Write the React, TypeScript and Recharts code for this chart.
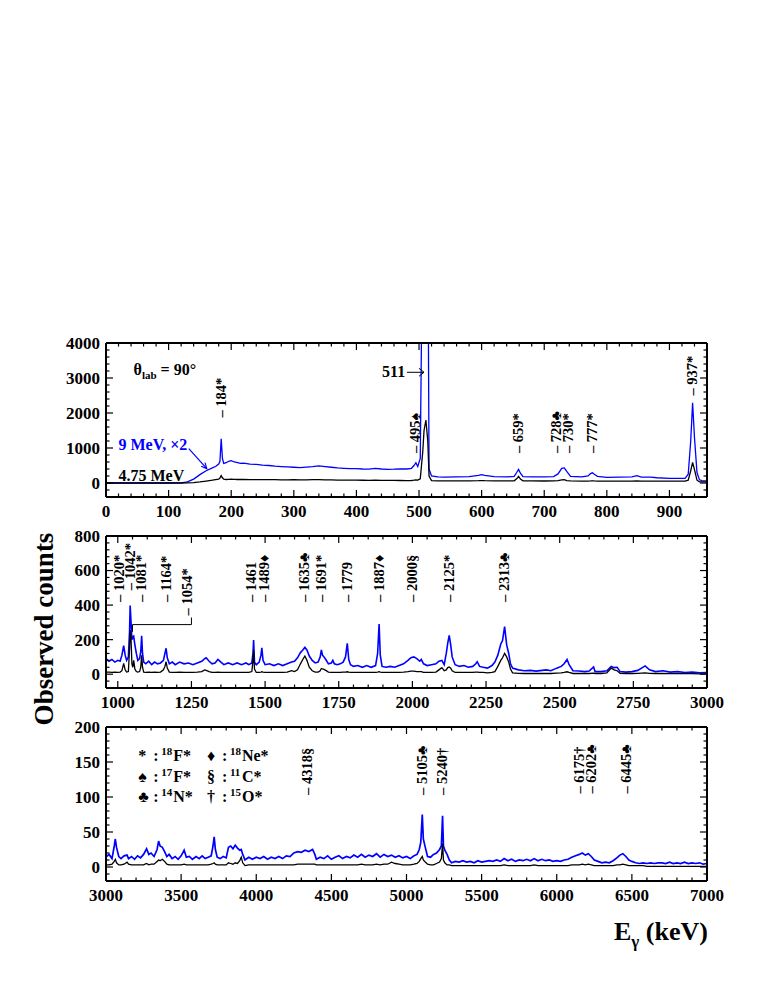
import React from 'react';
import { LineChart, Line, XAxis, YAxis, ReferenceDot, ReferenceLine } from 'recharts';

const SERIF = '"Liberation Serif", "Times New Roman", serif';
const BLUE = '#0000ff';

// ---------- panel 1 : 0 - 960 keV ----------
const e1 = [
  0, 20, 40, 60, 80, 100, 120, 130, 140, 150, 160, 170,
  175, 180, 182, 184, 186, 188, 192, 196, 200, 205, 210, 215,
  220, 230, 240, 250, 260, 270, 280, 290, 300, 310, 320, 330,
  340, 350, 360, 370, 380, 390, 400, 410, 420, 430, 440, 450,
  460, 470, 480, 488, 492, 495, 498, 502, 506, 508, 511, 514,
  516, 520, 530, 540, 560, 580, 595, 600, 605, 620, 640, 652,
  656, 659, 662, 666, 680, 700, 715, 722, 728, 732, 736, 742,
  760, 770, 774, 777, 780, 785, 800, 820, 840, 848, 855, 870,
  880, 900, 915, 925, 930, 934, 937, 940, 944, 948, 952, 960,
];
const blue1 = [
  0, 0, 0, 0, 0, 0, 5, 30, 110, 240, 350, 430,
  470, 540, 620, 1260, 700, 560, 580, 620, 640, 600, 580, 560,
  570, 540, 530, 510, 500, 480, 470, 460, 450, 440, 455, 470,
  490, 470, 450, 430, 420, 410, 410, 400, 395, 420, 400, 390,
  395, 405, 400, 420, 500, 580, 470, 700, 8000, 12000, 12000, 8000,
  400, 200, 175, 170, 175, 180, 220, 240, 220, 185, 175, 190,
  300, 390, 280, 180, 175, 175, 185, 260, 420, 430, 330, 190,
  175, 200, 270, 290, 250, 190, 160, 165, 175, 210, 170, 165,
  150, 135, 135, 130, 250, 1200, 2290, 1300, 300, 90, 65, 60,
];
const black1 = [
  0, 0, 0, 0, 0, 0, 0, 2, 10, 30, 55, 80,
  95, 110, 140, 210, 150, 110, 100, 105, 110, 105, 100, 100,
  100, 98, 96, 95, 95, 94, 92, 92, 95, 90, 92, 94,
  96, 92, 88, 85, 82, 80, 80, 78, 76, 78, 75, 74,
  74, 72, 70, 72, 80, 90, 85, 120, 900, 1500, 1800, 1200,
  200, 70, 62, 60, 60, 60, 65, 70, 66, 60, 58, 62,
  120, 190, 110, 62, 58, 57, 58, 70, 90, 95, 70, 58,
  56, 56, 58, 62, 58, 56, 55, 55, 55, 58, 56, 55,
  55, 55, 55, 55, 80, 350, 590, 380, 80, 35, 30, 30,
];

// ---------- panel 2 : 960 - 3000 keV ----------
const e2 = [
  960, 970, 980, 990, 1000, 1008, 1014, 1020, 1025, 1030, 1036, 1040,
  1042, 1045, 1048, 1051, 1054, 1058, 1063, 1068, 1074, 1078, 1081, 1084,
  1088, 1095, 1105, 1115, 1125, 1135, 1145, 1155, 1160, 1164, 1168, 1175,
  1185, 1195, 1210, 1225, 1240, 1255, 1270, 1285, 1295, 1300, 1310, 1320,
  1330, 1340, 1350, 1360, 1375, 1390, 1405, 1420, 1435, 1445, 1455, 1459,
  1461, 1464, 1470, 1480, 1486, 1489, 1493, 1500, 1515, 1530, 1545, 1560,
  1575, 1590, 1600, 1610, 1620, 1628, 1635, 1642, 1650, 1660, 1670, 1680,
  1687, 1691, 1695, 1700, 1706, 1715, 1725, 1730, 1735, 1745, 1755, 1765,
  1773, 1779, 1784, 1790, 1800, 1815, 1830, 1845, 1860, 1875, 1882, 1887,
  1891, 1897, 1910, 1925, 1940, 1955, 1970, 1985, 1995, 2005, 2015, 2025,
  2030, 2038, 2050, 2065, 2080, 2090, 2100, 2108, 2115, 2120, 2125, 2130,
  2135, 2145, 2160, 2175, 2190, 2205, 2215, 2220, 2228, 2240, 2255, 2270,
  2280, 2290, 2300, 2306, 2313, 2320, 2327, 2333, 2340, 2360, 2380, 2400,
  2420, 2440, 2455, 2470, 2490, 2505, 2515, 2525, 2532, 2545, 2565, 2585,
  2600, 2615, 2620, 2640, 2660, 2675, 2685, 2695, 2705, 2725, 2745, 2765,
  2790, 2805, 2825, 2850, 2875, 2900, 2925, 2950, 2975, 3000,
];
const blue2 = [
  90, 75, 85, 70, 80, 75, 110, 165, 110, 80, 100, 250,
  397, 300, 200, 215, 220, 170, 120, 80, 90, 130, 222, 120,
  70, 60, 75, 55, 70, 60, 65, 80, 120, 150, 95, 60,
  70, 55, 70, 60, 65, 55, 65, 75, 90, 95, 75, 60,
  65, 85, 70, 55, 65, 55, 65, 55, 65, 55, 65, 120,
  198, 70, 55, 70, 110, 152, 80, 55, 60, 50, 60, 50,
  60, 70, 75, 95, 125, 140, 155, 140, 105, 80, 65, 70,
  100, 140, 110, 100, 85, 60, 65, 80, 60, 55, 60, 70,
  100, 178, 85, 55, 45, 50, 40, 50, 40, 50, 120, 290,
  110, 45, 40, 45, 40, 50, 60, 80, 95, 100, 90, 75,
  85, 60, 50, 55, 60, 75, 80, 55, 120, 180, 225, 170,
  100, 55, 45, 50, 40, 45, 60, 72, 45, 40, 35, 50,
  70, 110, 175, 195, 275, 170, 120, 60, 35, 25, 20, 22,
  18, 22, 25, 20, 35, 45, 60, 85, 55, 20, 18, 15,
  18, 42, 15, 15, 20, 45, 38, 40, 15, 12, 15, 22,
  48, 25, 15, 20, 12, 15, 10, 12, 8, 10,
];
const black2 = [
  12, 12, 10, 12, 10, 12, 20, 62, 25, 12, 15, 150,
  255, 200, 60, 40, 80, 30, 15, 12, 15, 40, 110, 40,
  12, 10, 12, 10, 12, 10, 12, 25, 45, 72, 35, 12,
  10, 10, 12, 10, 10, 10, 12, 15, 25, 22, 15, 10,
  10, 12, 10, 10, 10, 10, 10, 10, 10, 10, 15, 80,
  140, 30, 10, 10, 12, 14, 12, 10, 10, 10, 10, 10,
  12, 20, 15, 25, 60, 85, 105, 80, 40, 20, 12, 12,
  20, 33, 30, 28, 22, 12, 10, 10, 10, 10, 10, 12,
  12, 14, 12, 10, 10, 10, 10, 10, 10, 10, 12, 15,
  12, 10, 10, 10, 10, 10, 12, 15, 18, 18, 15, 15,
  15, 10, 10, 10, 12, 25, 38, 20, 25, 38, 42, 35,
  20, 10, 10, 10, 10, 10, 12, 12, 10, 10, 8, 10,
  15, 45, 80, 95, 120, 100, 70, 30, 8, 5, 4, 4,
  4, 4, 5, 4, 6, 8, 10, 14, 10, 4, 4, 4,
  4, 6, 4, 4, 8, 35, 25, 20, 5, 4, 4, 5,
  8, 5, 4, 4, 3, 3, 3, 3, 2, 2,
];

// ---------- panel 3 : 3000 - 7000 keV ----------
const e3 = [
  3000, 3020, 3040, 3055, 3062, 3070, 3085, 3100, 3120, 3140, 3150, 3170,
  3190, 3210, 3230, 3250, 3270, 3285, 3300, 3320, 3340, 3350, 3360, 3375,
  3390, 3405, 3420, 3440, 3460, 3480, 3500, 3520, 3535, 3555, 3575, 3600,
  3620, 3640, 3660, 3680, 3700, 3712, 3720, 3728, 3740, 3760, 3780, 3800,
  3815, 3830, 3845, 3860, 3875, 3890, 3900, 3910, 3925, 3950, 3975, 4000,
  4025, 4050, 4075, 4100, 4125, 4150, 4175, 4200, 4225, 4250, 4275, 4300,
  4325, 4350, 4375, 4390, 4400, 4425, 4450, 4475, 4500, 4525, 4550, 4575,
  4600, 4625, 4650, 4675, 4700, 4725, 4750, 4775, 4800, 4825, 4850, 4875,
  4900, 4925, 4950, 4975, 5000, 5025, 5050, 5070, 5085, 5095, 5105, 5112,
  5125, 5140, 5160, 5180, 5200, 5220, 5232, 5240, 5246, 5255, 5270, 5285,
  5300, 5325, 5350, 5375, 5400, 5425, 5450, 5475, 5500, 5525, 5550, 5575,
  5600, 5625, 5650, 5675, 5700, 5725, 5750, 5775, 5800, 5825, 5850, 5875,
  5900, 5925, 5950, 5975, 6000, 6025, 6050, 6075, 6100, 6125, 6150, 6170,
  6190, 6210, 6230, 6250, 6275, 6300, 6325, 6350, 6375, 6400, 6420, 6440,
  6460, 6480, 6500, 6525, 6550, 6575, 6600, 6625, 6650, 6675, 6700, 6725,
  6750, 6775, 6800, 6825, 6850, 6875, 6900, 6925, 6950, 6975, 7000,
];
const blue3 = [
  14, 18, 12, 30, 40, 28, 15, 12, 16, 17, 12, 15,
  11, 16, 13, 18, 26, 18, 20, 15, 25, 37, 30, 28,
  22, 15, 18, 12, 15, 11, 16, 24, 14, 15, 11, 15,
  12, 16, 12, 14, 16, 30, 43, 25, 14, 12, 15, 13,
  28, 30, 26, 31, 27, 24, 25, 18, 10, 14, 11, 14,
  12, 15, 11, 14, 12, 15, 12, 16, 15, 20, 22, 21,
  24, 22, 25, 18, 11, 14, 12, 16, 11, 14, 16, 12,
  15, 13, 17, 14, 18, 14, 17, 15, 19, 14, 18, 15,
  17, 14, 16, 13, 15, 12, 16, 18, 25, 35, 75, 40,
  28, 15, 14, 18, 20, 25, 30, 73, 30, 24, 18, 10,
  6, 8, 7, 9, 7, 8, 6, 9, 7, 8, 9, 8,
  10, 8, 12, 9, 11, 8, 10, 9, 11, 9, 12, 9,
  11, 9, 10, 8, 9, 8, 10, 11, 14, 16, 18, 20,
  17, 19, 15, 10, 8, 6, 7, 6, 9, 13, 17, 19,
  15, 10, 8, 6, 5, 6, 5, 6, 5, 6, 6, 5,
  7, 5, 6, 5, 7, 5, 6, 5, 6, 4, 5,
];
const black3 = [
  3, 3, 4, 8, 11, 6, 3, 3, 4, 7, 4, 3,
  3, 3, 3, 3, 5, 3, 4, 4, 8, 10, 9, 11,
  8, 4, 3, 3, 3, 3, 3, 4, 3, 3, 3, 3,
  3, 3, 3, 3, 4, 5, 6, 4, 3, 3, 3, 3,
  6, 5, 4, 6, 5, 9, 14, 6, 2, 3, 3, 3,
  3, 3, 3, 3, 3, 3, 3, 3, 3, 3, 4, 4,
  4, 4, 4, 4, 3, 3, 3, 3, 3, 3, 3, 3,
  3, 3, 3, 3, 4, 3, 3, 3, 4, 3, 4, 4,
  7, 5, 4, 3, 3, 3, 4, 5, 8, 12, 15, 10,
  7, 4, 3, 3, 5, 7, 12, 33, 10, 6, 3, 3,
  2, 2, 2, 2, 2, 2, 2, 2, 2, 2, 2, 2,
  2, 2, 3, 2, 2, 2, 2, 2, 2, 2, 3, 2,
  2, 2, 2, 2, 2, 2, 2, 2, 3, 3, 3, 4,
  3, 4, 3, 2, 2, 2, 2, 2, 2, 3, 3, 4,
  3, 2, 2, 2, 2, 2, 1, 1, 1, 1, 1, 1,
  1, 1, 1, 1, 1, 1, 1, 1, 1, 1, 1,
];

// tick labels
const xLabels1 = [0, 100, 200, 300, 400, 500, 600, 700, 800, 900];
const yLabels1 = [0, 1000, 2000, 3000, 4000];
const xLabels2 = [1000, 1250, 1500, 1750, 2000, 2250, 2500, 2750, 3000];
const yLabels2 = [0, 200, 400, 600, 800];
const xLabels3 = [3000, 3500, 4000, 4500, 5000, 5500, 6000, 6500, 7000];
const yLabels3 = [0, 50, 100, 150, 200];

// peak labels
const peaks1 = [184, 495, 659, 728, 730, 777, 937];
const names1 = ['184*', '495♠', '659*', '728♣', '730*', '777*', '937*'];
const peaks2 = [1020, 1042, 1081, 1164, 1461, 1489, 1635, 1691, 1779, 1887, 2000, 2125, 2313];
const names2 = ['1020*', '1042*', '1081*', '1164*', '1461', '1489♦', '1635♣', '1691*', '1779', '1887♦', '2000§', '2125*', '2313♣'];
const peaks3 = [4318, 5105, 5240, 6175, 6202, 6445];
const names3 = ['4318§', '5105♣', '5240†', '6175†', '6202♣', '6445♣'];

// legend of the symbols
const legendSymbols = ['*', '♠', '♣', '♦', '§', '†'];
const legendMass = ['18', '17', '14', '18', '11', '15'];
const legendNuclide = ['F*', 'F*', 'N*', 'Ne*', 'C*', 'O*'];

// layout of the peak labels (height of the dash, in counts, and sideways nudge in px)
const LABEL_AT1 = [1870, 857, 857, 857, 857, 857, 2500];
const NUDGE1 = [0, 0, 0, -5, 5, 0, 0];
const LABEL_AT2 = [418, 486, 418, 418, 418, 418, 418, 418, 418, 418, 418, 418, 418];
const NUDGE2 = [-4, 0, 0, 0, -2, 3, 0, 0, 0, 0, 0, 0, 0];
const LABEL_AT3 = [103, 103, 103, 105, 105, 105];
const NUDGE3 = [3, 0, 0, -4, 4, 3];

const range = (from: number, to: number, step: number) => {
  const out: number[] = [];
  for (let v = from; v <= to + 1e-6; v += step) out.push(Math.round(v * 1000) / 1000);
  return out;
};

const toRows = (e: number[], blue: number[], black: number[]) =>
  e.map((v, i) => ({ e: v, blue: blue[i], black: black[i] }));

const MAJOR = 7;
const MINOR = 3.5;
const labelStyle = { fontFamily: SERIF, fontWeight: 700, fontSize: 17 };

function makeTick(side: string, majors: number[]) {
  return (p: any) => {
    const v = p.payload.value;
    const major = majors.some((m) => Math.abs(m - v) < 1e-6);
    const len = major ? MAJOR : MINOR;
    const { x, y } = p;
    let tick;
    let label = null;
    if (side === 'bottom') {
      tick = <line x1={x} x2={x} y1={y} y2={y - len} />;
      if (major)
        label = (
          <text x={x} y={y + 20} textAnchor="middle" stroke="none" fill="#000" style={labelStyle}>
            {v}
          </text>
        );
    } else if (side === 'top') {
      tick = <line x1={x} x2={x} y1={y} y2={y + len} />;
    } else if (side === 'left') {
      tick = <line x1={x} x2={x + len} y1={y} y2={y} />;
      if (major)
        label = (
          <text x={x - 6} y={y} dy="0.35em" textAnchor="end" stroke="none" fill="#000" style={labelStyle}>
            {v}
          </text>
        );
    } else {
      tick = <line x1={x} x2={x - len} y1={y} y2={y} />;
    }
    return (
      <g stroke="#000" strokeWidth={1.2}>
        {tick}
        {label}
      </g>
    );
  };
}

const peakLabel = (text: string, nudge: number) => (p: any) => (
  <text
    transform={`translate(${p.cx + 4.5 + nudge},${p.cy}) rotate(-90)`}
    style={{ fontFamily: SERIF, fontWeight: 700, fontSize: 14.5 }}
    fill="#000"
  >
    {'– ' + text}
  </text>
);

function peakDots(peaks: number[], names: string[], at: number[], nudge: number[]) {
  return peaks.map((pk, i) => (
    <ReferenceDot
      key={names[i]}
      xAxisId="b"
      yAxisId="l"
      x={pk}
      y={at[i]}
      r={0}
      shape={peakLabel(names[i], nudge[i])}
    />
  ));
}

const note = (key: string, x: number, y: number, draw: (cx: number, cy: number) => React.ReactNode) => (
  <ReferenceDot key={key} xAxisId="b" yAxisId="l" x={x} y={y} r={0} shape={(p: any) => <g>{draw(p.cx, p.cy)}</g>} />
);

interface PanelProps {
  top: number;
  height: number;
  rows: { e: number; blue: number; black: number }[];
  xDomain: [number, number];
  yDomain: [number, number];
  xTicks: number[];
  yTicks: number[];
  xMajor: number[];
  yMajor: number[];
  blueWidth: number;
  children?: React.ReactNode;
}

function Panel({ top, height, rows, xDomain, yDomain, xTicks, yTicks, xMajor, yMajor, blueWidth, children }: PanelProps) {
  const frame = { stroke: '#000', strokeWidth: 2 };
  return (
    <div style={{ position: 'absolute', left: 0, top: top - 20 }}>
      <LineChart width={763} height={height + 60} data={rows} margin={{ top: 18, right: 46, bottom: 10, left: 46 }}>
        <XAxis
          xAxisId="b"
          type="number"
          dataKey="e"
          domain={xDomain}
          allowDataOverflow
          ticks={xTicks}
          interval={0}
          tickSize={0}
          tickMargin={0}
          tickLine={false}
          axisLine={frame}
          height={30}
          tick={makeTick('bottom', xMajor)}
        />
        <XAxis
          xAxisId="t"
          orientation="top"
          type="number"
          dataKey="e"
          domain={xDomain}
          allowDataOverflow
          ticks={xTicks}
          interval={0}
          tickSize={0}
          tickMargin={0}
          tickLine={false}
          axisLine={frame}
          height={2}
          tick={makeTick('top', xMajor)}
        />
        <YAxis
          yAxisId="l"
          type="number"
          domain={yDomain}
          allowDataOverflow
          ticks={yTicks}
          interval={0}
          tickSize={0}
          tickMargin={0}
          tickLine={false}
          axisLine={frame}
          width={60}
          tick={makeTick('left', yMajor)}
        />
        <YAxis
          yAxisId="r"
          orientation="right"
          type="number"
          domain={yDomain}
          allowDataOverflow
          ticks={yTicks}
          interval={0}
          tickSize={0}
          tickMargin={0}
          tickLine={false}
          axisLine={frame}
          width={10}
          tick={makeTick('right', yMajor)}
        />
        <Line
          xAxisId="b"
          yAxisId="l"
          type="linear"
          dataKey="blue"
          stroke={BLUE}
          strokeWidth={blueWidth}
          dot={false}
          isAnimationActive={false}
        />
        <Line
          xAxisId="t"
          yAxisId="r"
          type="linear"
          dataKey="black"
          stroke="#000"
          strokeWidth={1.3}
          dot={false}
          isAnimationActive={false}
        />
        {children}
      </LineChart>
    </div>
  );
}

const txt = { fontFamily: SERIF, fontWeight: 700 };

export default function App() {
  const legendCols = [3215, 3672];
  const legendRows = [152, 121, 93];
  return (
    <div style={{ position: 'absolute', left: 0, top: 0, width: 763, height: 987, background: '#fff' }}>
      <Panel
        top={343}
        height={154}
        rows={toRows(e1, blue1, black1)}
        xDomain={[0, 960]}
        yDomain={[-400, 4000]}
        xTicks={range(0, 940, 20)}
        yTicks={range(-200, 4000, 200)}
        xMajor={xLabels1}
        yMajor={yLabels1}
        blueWidth={1.3}
      >
        {peakDots(peaks1, names1, LABEL_AT1, NUDGE1)}
        {note('theta', 44, 3077, (cx, cy) => (
          <text x={cx} y={cy} style={{ ...txt, fontSize: 16 }} fill="#000">
            θ<tspan dy={4} style={{ fontSize: 11 }}>lab</tspan>
            <tspan dy={-4}> = 90°</tspan>
          </text>
        ))}
        {note('511', 441, 3029, (cx, cy) => (
          <text x={cx} y={cy} style={{ ...txt, fontSize: 16 }} fill="#000">511</text>
        ))}
        {note('arrow511', 508, 3163, (cx, cy) => (
          <g stroke="#000" strokeWidth={1} fill="none">
            <line x1={cx - 17} y1={cy} x2={cx} y2={cy} />
            <polyline points={`${cx - 5},${cy - 4} ${cx},${cy} ${cx - 5},${cy + 4}`} />
          </g>
        ))}
        {note('9mev', 20, 954, (cx, cy) => (
          <text x={cx} y={cy} style={{ ...txt, fontSize: 16 }} fill={BLUE}>9 MeV, ×2</text>
        ))}
        {note('arrow9', 161, 411, (cx, cy) => (
          <g stroke={BLUE} strokeWidth={1.2} fill="none">
            <line x1={cx - 18} y1={cy - 20} x2={cx} y2={cy} />
            <polyline points={`${cx - 1.8},${cy - 6} ${cx},${cy} ${cx - 5.6},${cy - 2.4}`} />
          </g>
        ))}
        {note('475', 20, 57, (cx, cy) => (
          <text x={cx} y={cy} style={{ ...txt, fontSize: 16 }} fill="#000">4.75 MeV</text>
        ))}
      </Panel>

      <Panel
        top={536}
        height={152}
        rows={toRows(e2, blue2, black2)}
        xDomain={[960, 3000]}
        yDomain={[-80, 800]}
        xTicks={range(1000, 3000, 50)}
        yTicks={range(-40, 800, 40)}
        xMajor={xLabels2}
        yMajor={yLabels2}
        blueWidth={1.6}
      >
        {peakDots(peaks2, names2, LABEL_AT2, NUDGE2)}
        <ReferenceDot xAxisId="b" yAxisId="l" x={1250} y={340} r={0} shape={peakLabel('1054*', -4)} />
        <ReferenceLine xAxisId="b" yAxisId="l" segment={[{ x: 1050, y: 245 }, { x: 1050, y: 287 }]} stroke="#000" strokeWidth={1} />
        <ReferenceLine xAxisId="b" yAxisId="l" segment={[{ x: 1050, y: 287 }, { x: 1250, y: 287 }]} stroke="#000" strokeWidth={1} />
        <ReferenceLine xAxisId="b" yAxisId="l" segment={[{ x: 1250, y: 287 }, { x: 1250, y: 328 }]} stroke="#000" strokeWidth={1} />
      </Panel>

      <Panel
        top={727}
        height={154}
        rows={toRows(e3, blue3, black3)}
        xDomain={[3000, 7000]}
        yDomain={[-20, 200]}
        xTicks={range(3000, 7000, 100)}
        yTicks={range(-10, 200, 10)}
        xMajor={xLabels3}
        yMajor={yLabels3}
        blueWidth={1.7}
      >
        {peakDots(peaks3, names3, LABEL_AT3, NUDGE3)}
        {legendSymbols.map((s, i) =>
          note('leg' + i, legendCols[Math.floor(i / 3)], legendRows[i % 3], (cx, cy) => (
            <g style={{ ...txt, fontSize: 16 }} fill="#000">
              <text x={cx} y={cy}>{s}</text>
              <text x={cx + 15} y={cy}>:</text>
              <text x={cx + 23} y={cy - 6} style={{ fontSize: 11 }}>{legendMass[i]}</text>
              <text x={cx + 35} y={cy}>{legendNuclide[i]}</text>
            </g>
          ))
        )}
      </Panel>

      <svg width={763} height={987} style={{ position: 'absolute', left: 0, top: 0, pointerEvents: 'none' }}>
        <text transform="translate(53,629) rotate(-90)" textAnchor="middle" style={{ ...txt, fontSize: 27 }} fill="#000">
          Observed counts
        </text>
        <text x={614} y={940} style={{ ...txt, fontSize: 26 }} fill="#000">
          E<tspan dy={7} style={{ fontSize: 17 }}>γ</tspan>
          <tspan dy={-7}> (keV)</tspan>
        </text>
      </svg>
    </div>
  );
}
